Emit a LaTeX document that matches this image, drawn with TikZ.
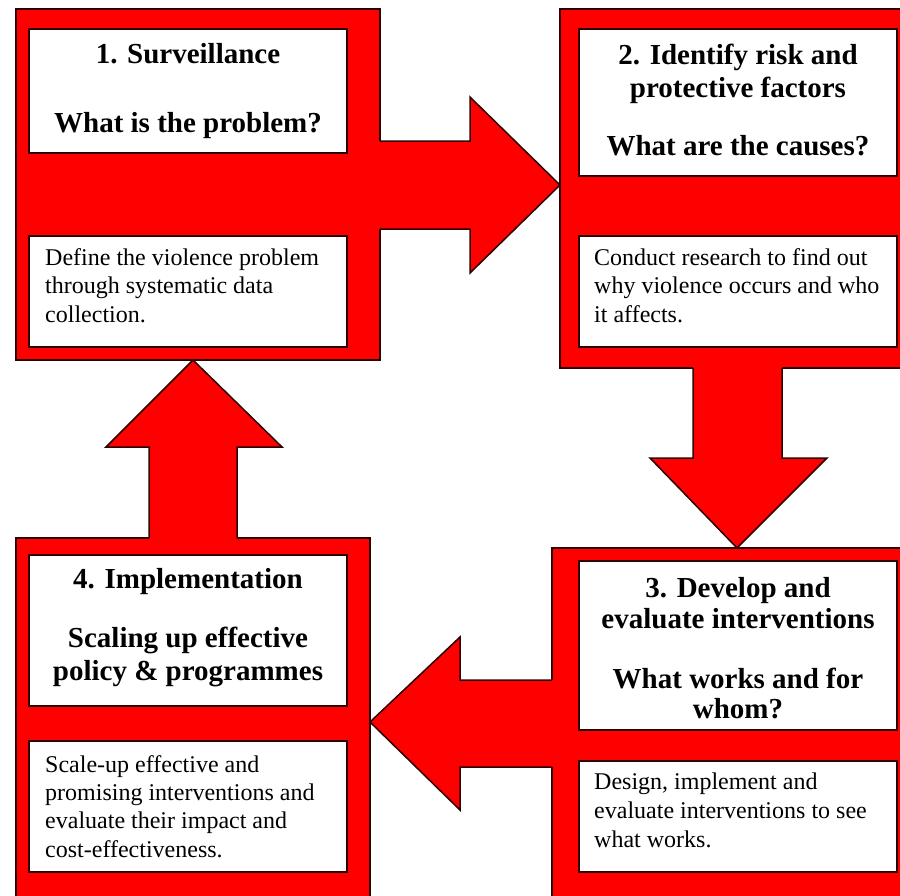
\documentclass[tikz,border=0pt]{standalone}
\usepackage{fontspec}
\setmainfont{Liberation Serif}
\definecolor{panelred}{RGB}{255,0,0}
\definecolor{edgedark}{RGB}{45,0,0}
\tikzset{
  panel/.style={rectangle, fill=panelred, draw=edgedark, line width=1.5pt, inner sep=0pt, outer sep=0pt, anchor=north west},
  whitebox/.style={rectangle, fill=white, draw=edgedark, line width=1.2pt, inner sep=0pt, outer sep=0pt, anchor=north west},
  arrowfill/.style={fill=panelred},
  arrowedge/.style={draw=edgedark, line width=1.5pt, line join=miter},
  titletext/.style={font=\bfseries\fontsize{29}{33}\selectfont, anchor=base, inner sep=0pt},
  bodytext/.style={font=\fontsize{24}{29}\selectfont, anchor=base west, inner sep=0pt},
}
\begin{document}
\begin{tikzpicture}[x=1pt,y=-1pt]
\useasboundingbox (0,0) rectangle (900,895);
\clip (0,0) rectangle (900,895);
\fill[white] (0,0) rectangle (900,895);

% red panels
\node[panel, minimum width=364pt, minimum height=351pt] (p1) at (16,9) {};
\node[panel, minimum width=350pt, minimum height=359pt] (p2) at (560,9) {};
\node[panel, minimum width=358pt, minimum height=360pt] (p3) at (552,548) {};
\node[panel, minimum width=354pt, minimum height=370pt] (p4) at (16,538) {};

% arrow 1 -> 2
\coordinate (t12) at (p2.west |- 0,185);
\fill[arrowfill] (374,141) -- (470,141) -- (470,97) -- (t12) -- (470,273) -- (470,229) -- (374,229) -- cycle;
\draw[arrowedge] (p1.east |- 0,141) -- (470,141) -- (470,97) -- (t12) -- (470,273) -- (470,229) -- (p1.east |- 0,229);

% arrow 2 -> 3
\coordinate (t23) at (p3.north -| 737,0);
\fill[arrowfill] (693,362) -- (693,458) -- (650,458) -- (t23) -- (827,458) -- (782,458) -- (782,362) -- cycle;
\draw[arrowedge] (p2.south -| 693,0) -- (693,458) -- (650,458) -- (t23) -- (827,458) -- (782,458) -- (p2.south -| 782,0);

% arrow 3 -> 4
\coordinate (t34) at (p4.east |- 0,722);
\fill[arrowfill] (558,680) -- (460,680) -- (460,637) -- (t34) -- (460,810) -- (460,767) -- (558,767) -- cycle;
\draw[arrowedge] (p3.west |- 0,680) -- (460,680) -- (460,637) -- (t34) -- (460,810) -- (460,767) -- (p3.west |- 0,767);

% arrow 4 -> 1
\coordinate (t41) at (p1.south -| 193,0);
\fill[arrowfill] (149,544) -- (149,447) -- (106,447) -- (t41) -- (282,447) -- (237,447) -- (237,544) -- cycle;
\draw[arrowedge] (p4.north -| 149,0) -- (149,447) -- (106,447) -- (t41) -- (282,447) -- (237,447) -- (p4.north -| 237,0);

% white boxes
\node[whitebox, minimum width=318pt, minimum height=124pt] (h1) at (29,29) {};
\node[whitebox, minimum width=318pt, minimum height=111pt] (b1) at (29,236) {};
\node[whitebox, minimum width=318pt, minimum height=147pt] (h2) at (579,29) {};
\node[whitebox, minimum width=318pt, minimum height=111pt] (b2) at (579,236) {};
\node[whitebox, minimum width=318pt, minimum height=169pt] (h3) at (579,561) {};
\node[whitebox, minimum width=318pt, minimum height=111pt] (b3) at (579,761) {};
\node[whitebox, minimum width=318pt, minimum height=151pt] (h4) at (29,555) {};
\node[whitebox, minimum width=318pt, minimum height=131pt] (b4) at (29,741) {};

% titles
\node[titletext] (h1a) at (188,63) {1. Surveillance};
\node[titletext] (h1b) at (188,132) {What is the problem?};
\node[titletext] (h2a) at (738,64) {2. Identify risk and};
\node[titletext] (h2b) at (738,97) {protective factors};
\node[titletext] (h2c) at (738,155) {What are the causes?};
\node[titletext] (h3a) at (738,597) {3. Develop and};
\node[titletext] (h3b) at (738,628) {evaluate interventions};
\node[titletext] (h3c) at (738,688) {What works and for};
\node[titletext] (h3d) at (738,718) {whom?};
\node[titletext] (h4a) at (188,588) {4. Implementation};
\node[titletext] (h4b) at (188,647) {Scaling up effective};
\node[titletext] (h4c) at (188,680) {policy \& programmes};

% body texts
\node[bodytext] (b1a) at (45,265) {Define the violence problem};
\node[bodytext] (b1b) at (45,293) {through systematic data};
\node[bodytext] (b1c) at (45,322) {collection.};
\node[bodytext] (b2a) at (594,265) {Conduct research to find out};
\node[bodytext] (b2b) at (594,293) {why violence occurs and who};
\node[bodytext] (b2c) at (594,322) {it affects.};
\node[bodytext] (b3a) at (594,789) {Design, implement and};
\node[bodytext] (b3b) at (594,818) {evaluate interventions to see};
\node[bodytext] (b3c) at (594,847) {what works.};
\node[bodytext] (b4a) at (45,772) {Scale-up effective and};
\node[bodytext] (b4b) at (45,800) {promising interventions and};
\node[bodytext] (b4c) at (45,828) {evaluate their impact and};
\node[bodytext] (b4d) at (45,857) {cost-effectiveness.};
\end{tikzpicture}
\end{document}
